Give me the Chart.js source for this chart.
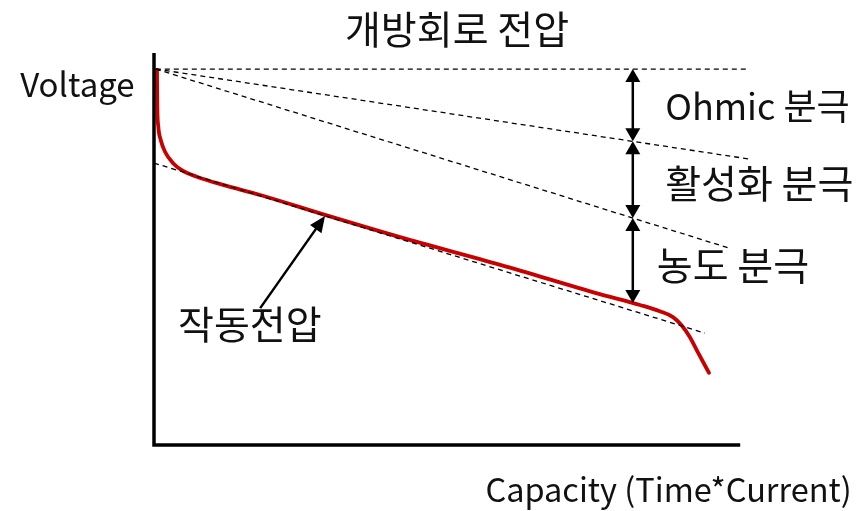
<!DOCTYPE html>
<html><head><meta charset="utf-8">
<script src="https://cdn.jsdelivr.net/npm/chart.js@4.4.1/dist/chart.umd.min.js"></script>
<style>html,body{margin:0;padding:0;background:#fff;}canvas{display:block;}</style>
</head><body>
<canvas id="c" width="861" height="511"></canvas>
<script>
// Discharge curve (capacity, voltage) in arbitrary units
const curveCapacity = [0.5, 0.52, 0.55, 0.72, 1.12, 1.83, 3.22, 4.83, 7.12, 11.5, 17.7, 28.5, 41.0, 57.7, 74.3, 81.0, 84.3, 86.5, 88.0, 89.3, 90.7, 92.5];
const curveVoltage  = [96.2, 91.0, 86.7, 81.6, 78.2, 75.2, 72.2, 70.3, 68.8, 66.7, 64.1, 59.0, 53.3, 46.2, 38.7, 35.9, 34.3, 32.8, 30.6, 27.7, 23.6, 18.5];
// Axis frame
const axisCapacity = [0, 0, 97.7];
const axisVoltage  = [100.5, 0, 0];
// Reference dashed lines: [startCap, startV, endCap, endV]
const ocvLine        = [0.3, 96.4, 99.3, 96.4];
const ohmicLine      = [0.3, 96.4, 99.3, 73.3];
const activationLine = [0.3, 96.4, 95.8, 50.5];
const tangentLine    = [0, 72.3, 91.8, 28.7];
// Polarisation arrows at one capacity value, between these voltages
const arrowCapacity = 79.8;
const arrowVoltages = [96.4, 77.9, 58.2, 36.4];
// Pointer arrow to the working voltage: [fromCap, fromV, toCap, toV]
const pointerArrow = [17.7, 35.1, 28.5, 58.7];
// Labels
const labelTexts = ['개방회로 전압', 'Ohmic 분극', '활성화 분극', '농도 분극', '작동전압', 'Voltage', 'Capacity (Time*Current)'];
const labelCapacity = [50.5, 85.2, 85.2, 83.8, 4.0, -22.3, 116.3];
const labelVoltage  = [106.7, 86.9, 67.2, 46.2, 31.0, 89.2, -14.6];

const pts = (xs, ys) => xs.map((x, i) => ({x, y: ys[i]}));
const seg = a => [{x: a[0], y: a[1]}, {x: a[2], y: a[3]}];

const labelStyle = [
  {font: '39px "Noto Sans CJK KR"', align: 'center', base: 'middle'},
  {font: '36px "Noto Sans CJK KR"', align: 'left', base: 'middle'},
  {font: '39px "Noto Sans CJK KR"', align: 'left', base: 'middle'},
  {font: '39px "Noto Sans CJK KR"', align: 'left', base: 'middle'},
  {font: '39px "Noto Sans CJK KR"', align: 'left', base: 'middle'},
  {font: '33px "Noto Sans CJK KR"', align: 'left', base: 'alphabetic'},
  {font: '32.5px "Noto Sans CJK KR"', align: 'right', base: 'alphabetic'}
];

function head(ctx, tx, ty, fx, fy, len, wid) {
  const a = Math.atan2(ty - fy, tx - fx);
  ctx.beginPath();
  ctx.moveTo(tx, ty);
  ctx.lineTo(tx - len * Math.cos(a) + wid / 2 * Math.sin(a), ty - len * Math.sin(a) - wid / 2 * Math.cos(a));
  ctx.lineTo(tx - len * Math.cos(a) - wid / 2 * Math.sin(a), ty - len * Math.sin(a) + wid / 2 * Math.cos(a));
  ctx.closePath();
  ctx.fill();
}

const annot = {
  id: 'annot',
  afterDatasetsDraw(chart) {
    const ctx = chart.ctx, xs = chart.scales.x, ys = chart.scales.y;
    ctx.save();
    ctx.fillStyle = '#000'; ctx.strokeStyle = '#000';
    const ax = xs.getPixelForValue(arrowCapacity);
    for (let i = 0; i < arrowVoltages.length - 1; i++) {
      const y1 = ys.getPixelForValue(arrowVoltages[i]);
      const y2 = ys.getPixelForValue(arrowVoltages[i + 1]);
      ctx.lineWidth = 2.5;
      ctx.beginPath(); ctx.moveTo(ax, y1 + 8); ctx.lineTo(ax, y2 - 8); ctx.stroke();
      head(ctx, ax, y1, ax, y2, 13, 15);
      head(ctx, ax, y2, ax, y1, 13, 15);
    }
    const px1 = xs.getPixelForValue(pointerArrow[0]), py1 = ys.getPixelForValue(pointerArrow[1]);
    const px2 = xs.getPixelForValue(pointerArrow[2]), py2 = ys.getPixelForValue(pointerArrow[3]);
    ctx.lineWidth = 2.5;
    const a = Math.atan2(py2 - py1, px2 - px1);
    ctx.beginPath(); ctx.moveTo(px1, py1); ctx.lineTo(px2 - 8 * Math.cos(a), py2 - 8 * Math.sin(a)); ctx.stroke();
    head(ctx, px2, py2, px1, py1, 16, 14);
    labelTexts.forEach((t, i) => {
      const s = labelStyle[i];
      ctx.font = s.font; ctx.textAlign = s.align; ctx.textBaseline = s.base;
      ctx.fillStyle = '#111';
      ctx.fillText(t, xs.getPixelForValue(labelCapacity[i]), ys.getPixelForValue(labelVoltage[i]));
    });
    ctx.restore();
  }
};

const dashed = (data) => ({data, showLine: true, borderColor: '#000', borderWidth: 1.3, borderDash: [5, 4], pointRadius: 0, tension: 0, clip: false});

new Chart(document.getElementById('c'), {
  type: 'scatter',
  data: {
    datasets: [
      {data: pts(axisCapacity, axisVoltage), showLine: true, borderColor: '#000', borderWidth: 3.5, pointRadius: 0, tension: 0, borderJoinStyle: 'miter', borderCapStyle: 'butt', clip: false},
      dashed(seg(ocvLine)),
      dashed(seg(ohmicLine)),
      dashed(seg(activationLine)),
      dashed(seg(tangentLine)),
      {data: pts(curveCapacity, curveVoltage), showLine: true, borderColor: '#c80000', borderWidth: 3.8, pointRadius: 0, cubicInterpolationMode: 'monotone', clip: false, borderCapStyle: 'round'}
    ]
  },
  options: {
    responsive: false, animation: false, devicePixelRatio: 1,
    layout: {padding: {left: 154, right: 107, top: 55, bottom: 66}},
    plugins: {legend: {display: false}, tooltip: {enabled: false}, title: {display: false}},
    scales: {
      x: {type: 'linear', min: 0, max: 100, display: false},
      y: {type: 'linear', min: 0, max: 100, display: false}
    }
  },
  plugins: [annot]
});
</script>
</body></html>
